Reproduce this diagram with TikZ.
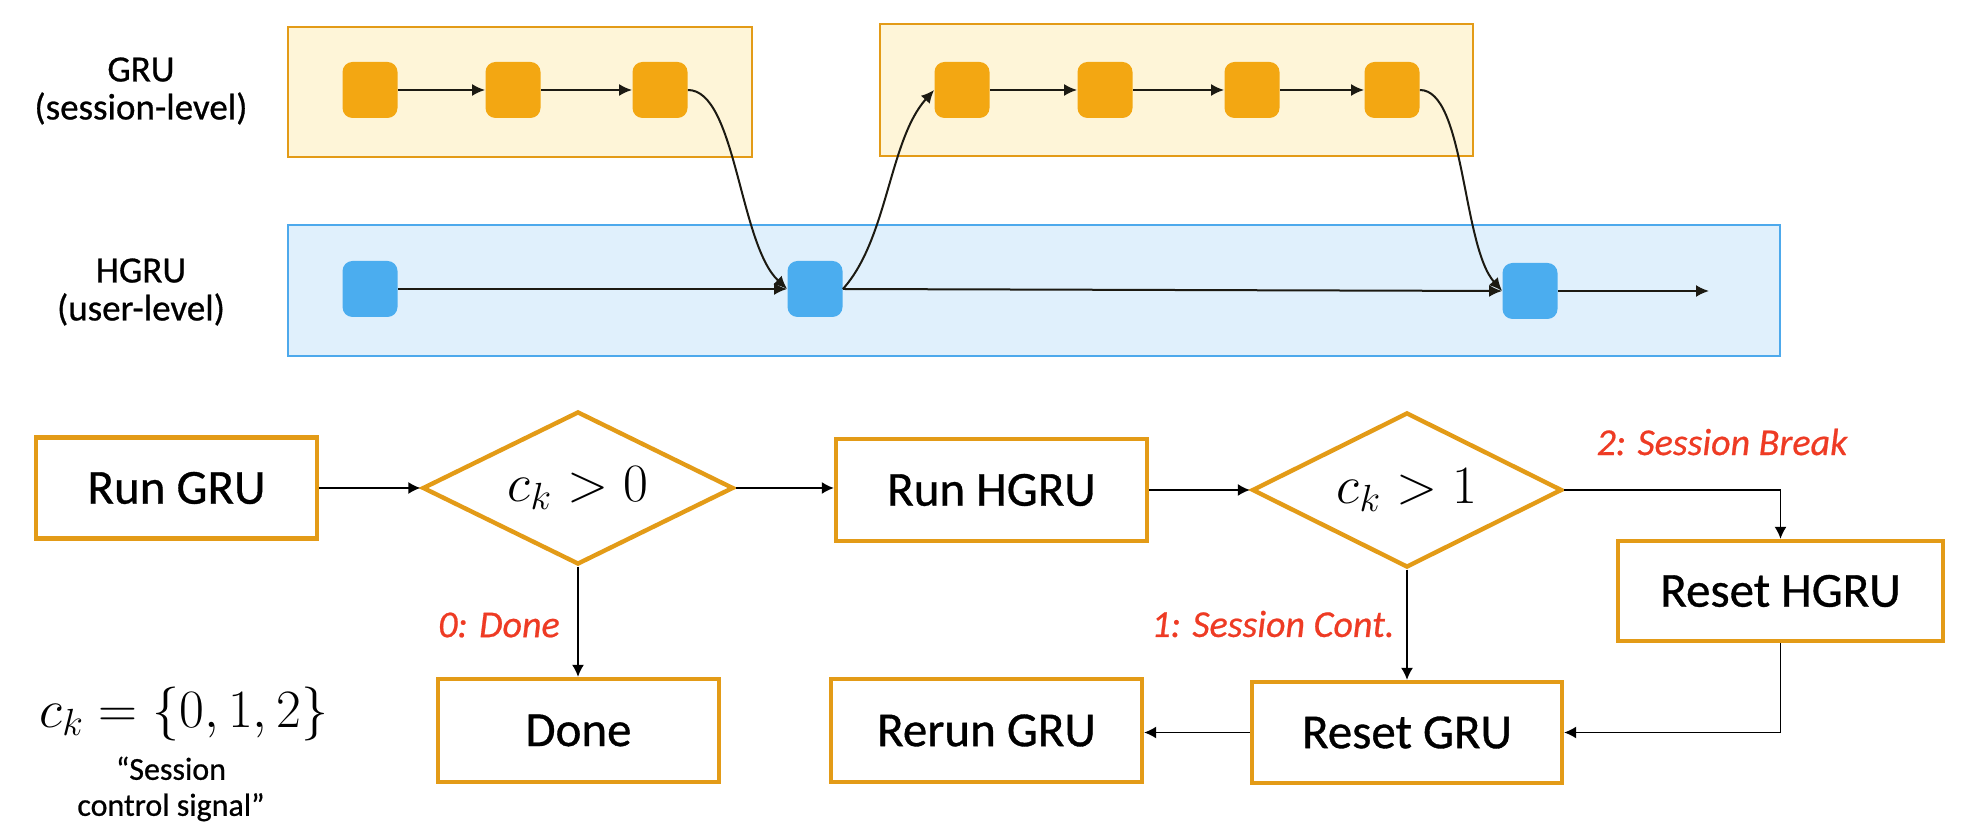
\documentclass[tikz,border=0pt]{standalone}
\usepackage{fix-cm}
\usepackage{fontspec}
\setmainfont{Carlito}[FakeBold=0.7,ItalicFeatures={FakeBold=0.6}]
\usetikzlibrary{shapes.geometric,arrows.meta}
\definecolor{orfill}{HTML}{F3A712}
\definecolor{orbox}{HTML}{FEF5D8}
\definecolor{orline}{HTML}{E39B17}
\definecolor{blfill}{HTML}{4BADEF}
\definecolor{blbox}{HTML}{E0F0FC}
\definecolor{blline}{HTML}{4DA9EC}
\definecolor{lblred}{HTML}{EE3B24}
\definecolor{arrdark}{HTML}{1C1A12}
\tikzset{
  cell/.style={rounded corners=5pt, minimum width=27.5pt, minimum height=28pt, inner sep=0pt, draw=none},
  ocell/.style={cell, fill=orfill},
  bcell/.style={cell, fill=blfill},
  topar/.style={-{Latex[length=6.5pt,width=6pt]}, line width=1pt, draw=arrdark},
  flowbox/.style={draw=orline, line width=2.2pt, fill=white, inner sep=0pt, font=\fontsize{24.5}{28}\selectfont},
  decide/.style={diamond, aspect=2, draw=orline, line width=2.2pt, fill=white, inner sep=0pt, font=\fontsize{27}{30}\selectfont},
  flowar/.style={-{Latex[length=6pt,width=6pt]}, line width=0.7pt},
  cond/.style={text=lblred, font=\fontsize{19}{22}\selectfont\itshape},
  sidelbl/.style={align=center, font=\fontsize{18.5}{19}\selectfont},
  obox/.style={draw=orline, fill=orbox, line width=1pt, inner sep=0pt},
  bbox/.style={draw=blline, fill=blbox, line width=1pt, inner sep=0pt},
}
\begin{document}
\begin{tikzpicture}[x=0.5pt,y=-0.5pt]
\useasboundingbox (0,0) rectangle (1966,838);

% container boxes
\node[obox, minimum width=232pt, minimum height=65pt] (gbox1) at (520,92) {};
\node[obox, minimum width=296.5pt, minimum height=66pt] (gbox2) at (1176.5,90) {};
\node[bbox, minimum width=746pt, minimum height=65.5pt] (hbox) at (1034,290.5) {};

% side labels
\node[sidelbl] (lgru) at (141,91) {GRU\\(session-level)};
\node[sidelbl] (lhgru) at (141,292) {HGRU\\(user-level)};

% GRU cells
\node[ocell] (o1) at (370,90) {};
\node[ocell] (o2) at (513,90) {};
\node[ocell] (o3) at (660,90) {};
\node[ocell] (o4) at (962,90) {};
\node[ocell] (o5) at (1105,90) {};
\node[ocell] (o6) at (1252,90) {};
\node[ocell] (o7) at (1392,90) {};

% HGRU cells
\node[bcell] (b1) at (370,289) {};
\node[bcell] (b2) at (815,289) {};
\node[bcell] (b3) at (1530,291) {};
\coordinate (hend) at (1709,291);

\draw[topar] (o1) -- (o2);
\draw[topar] (o2) -- (o3);
\draw[topar] (o4) -- (o5);
\draw[topar] (o5) -- (o6);
\draw[topar] (o6) -- (o7);
\draw[topar] (b1) -- (b2);
\draw[topar] (b2.east) -- (b3.west);
\draw[topar] (b3.east) -- (hend);
\draw[topar] (o3.east) .. controls +(48,0) and +(-48,-45) .. (b2.west);
\draw[topar] (b2.east) .. controls +(45,-50) and +(-45,50) .. (o4.west);
\draw[topar] (o7.east) .. controls +(45,0) and +(-40,-45) .. (b3.west);

% flowchart
\node[flowbox, minimum width=140.5pt, minimum height=50.5pt] (rungru) at (176.5,488) {Run GRU};
\node[decide, minimum width=155.5pt, minimum height=76.5pt] (d1) at (578,488) {$c_k>0$};
\node[flowbox, minimum width=155.5pt, minimum height=51pt] (runhgru) at (991.5,490) {Run HGRU};
\node[decide, minimum width=155pt, minimum height=77.5pt] (d2) at (1407,490) {$c_k>1$};
\node[flowbox, minimum width=162.5pt, minimum height=50pt] (resethgru) at (1780.5,591) {Reset HGRU};
\node[flowbox, minimum width=140.5pt, minimum height=51.5pt] (done) at (578.5,730.5) {Done};
\node[flowbox, minimum width=155pt, minimum height=50.5pt] (resetgru) at (1407,732.5) {Reset GRU};
\node[flowbox, minimum width=155.5pt, minimum height=51.5pt] (rerungru) at (986.5,730.5) {Rerun GRU};

\draw[flowar] (rungru.east) -- (d1.west);
\draw[flowar] (d1.east) -- (d1.east -| runhgru.west);
\draw[flowar] (runhgru.east) -- (runhgru.east -| d2.west);
\draw[flowar] (d1.south) -- (d1.south |- done.north);
\draw[flowar] (d2.south) -- (d2.south |- resetgru.north);
\draw[flowar] (d2.east) -| (resethgru.north);
\draw[flowar] (resethgru.south) |- (resetgru.east);
\draw[flowar] (resetgru.west) -- (resetgru.west -| rerungru.east);

\node[cond] (l0) at (499,625) {0: Done};
\node[cond] (l1) at (1273,624) {1: Session Cont.};
\node[cond] (l2) at (1722,442) {2: Session Break};

\node[font=\fontsize{27}{30}\selectfont] (ck) at (184,714) {$c_k=\{0,1,2\}$};
\node[align=center, font=\fontsize{16}{18}\selectfont] (sig) at (171,789) {“Session\\control signal”};
\end{tikzpicture}
\end{document}
